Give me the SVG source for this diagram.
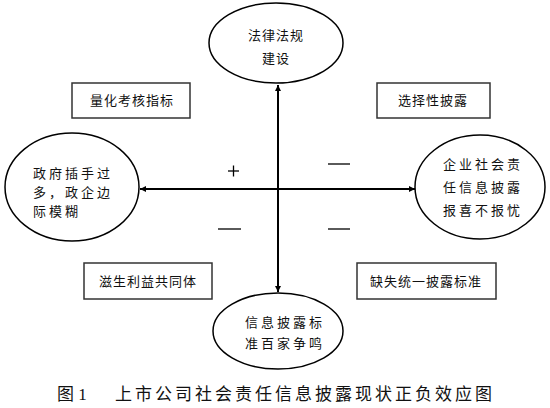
<svg xmlns="http://www.w3.org/2000/svg" width="550" height="408" viewBox="0 0 550 408">
<style>
.bg{fill:#fff}
.ell{fill:#fff;stroke:#000;stroke-width:1.5}
.box{fill:#fff;stroke:#333;stroke-width:1.5}
.t{font-family:"Noto Sans CJK SC","Noto Sans",sans-serif;font-size:13px;fill:#111}
.te{font-family:"Noto Sans CJK SC","Noto Sans",sans-serif;font-size:13px;fill:#111;letter-spacing:3px}
.ax{stroke:#000;stroke-width:2;fill:none}
.sg{stroke:#000;stroke-width:1.3}
.cap{font-family:"Liberation Serif","Noto Sans CJK SC",serif;font-size:17px;fill:#111}
</style>
<defs>
<marker id="ah" viewBox="0 0 10 10" refX="10" refY="5" markerWidth="6" markerHeight="6" orient="auto" markerUnits="userSpaceOnUse">
<path d="M0,0 L10,5 L0,10 z" fill="#000"/>
</marker>
</defs>
<rect class="bg" x="0" y="0" width="550" height="408"/>
<g id="connectors">
<line class="ax" x1="278" y1="189" x2="278" y2="85" marker-end="url(#ah)"/>
<line class="ax" x1="278" y1="189" x2="278" y2="292" marker-end="url(#ah)"/>
<line class="ax" x1="278" y1="189" x2="140" y2="189" marker-end="url(#ah)"/>
<line class="ax" x1="278" y1="189" x2="415" y2="189" marker-end="url(#ah)"/>
</g>
<g id="n-top">
<ellipse class="ell" cx="276" cy="43" rx="67" ry="40"/>
<text class="t" x="276" y="40" text-anchor="middle" letter-spacing="1">法律法规</text>
<text class="t" x="276" y="63" text-anchor="middle" letter-spacing="1">建设</text>
</g>
<g id="n-left">
<ellipse class="ell" cx="72" cy="187" rx="67" ry="54"/>
<text class="te" x="33" y="178">政府插手过</text>
<text class="te" x="33" y="197">多，政企边</text>
<text class="te" x="33" y="216">际模糊</text>
</g>
<g id="n-right">
<ellipse class="ell" cx="480" cy="187" rx="65" ry="52"/>
<text class="te" x="443" y="169">企业社会责</text>
<text class="te" x="443" y="192">任信息披露</text>
<text class="te" x="443" y="215">报喜不报忧</text>
</g>
<g id="n-bottom">
<ellipse class="ell" cx="278" cy="331" rx="65" ry="38"/>
<text class="te" x="245" y="327">信息披露标</text>
<text class="te" x="245" y="348">准百家争鸣</text>
</g>
<g id="b-tl">
<rect class="box" x="72" y="83" width="118" height="35"/>
<text class="t" x="132" y="105" text-anchor="middle" letter-spacing="1">量化考核指标</text>
</g>
<g id="b-tr">
<rect class="box" x="377" y="83" width="113" height="35"/>
<text class="t" x="433" y="105" text-anchor="middle" letter-spacing="1">选择性披露</text>
</g>
<g id="b-bl">
<rect class="box" x="84" y="263" width="128" height="36"/>
<text class="t" x="148" y="286" text-anchor="middle" letter-spacing="1">滋生利益共同体</text>
</g>
<g id="b-br">
<rect class="box" x="357" y="263" width="139" height="36"/>
<text class="t" x="426" y="286" text-anchor="middle" letter-spacing="1">缺失统一披露标准</text>
</g>
<g id="signs">
<line class="sg" x1="228" y1="171" x2="239" y2="171"/>
<line class="sg" x1="233.5" y1="165.5" x2="233.5" y2="176.5"/>
<line class="sg" x1="328" y1="164" x2="350" y2="164"/>
<line class="sg" x1="218" y1="229" x2="241" y2="229"/>
<line class="sg" x1="328" y1="229" x2="350" y2="229"/>
</g>
<text class="cap" x="57" y="400">图 1<tspan x="115" letter-spacing="3">上市公司社会责任信息披露现状正负效应图</tspan></text>
</svg>
